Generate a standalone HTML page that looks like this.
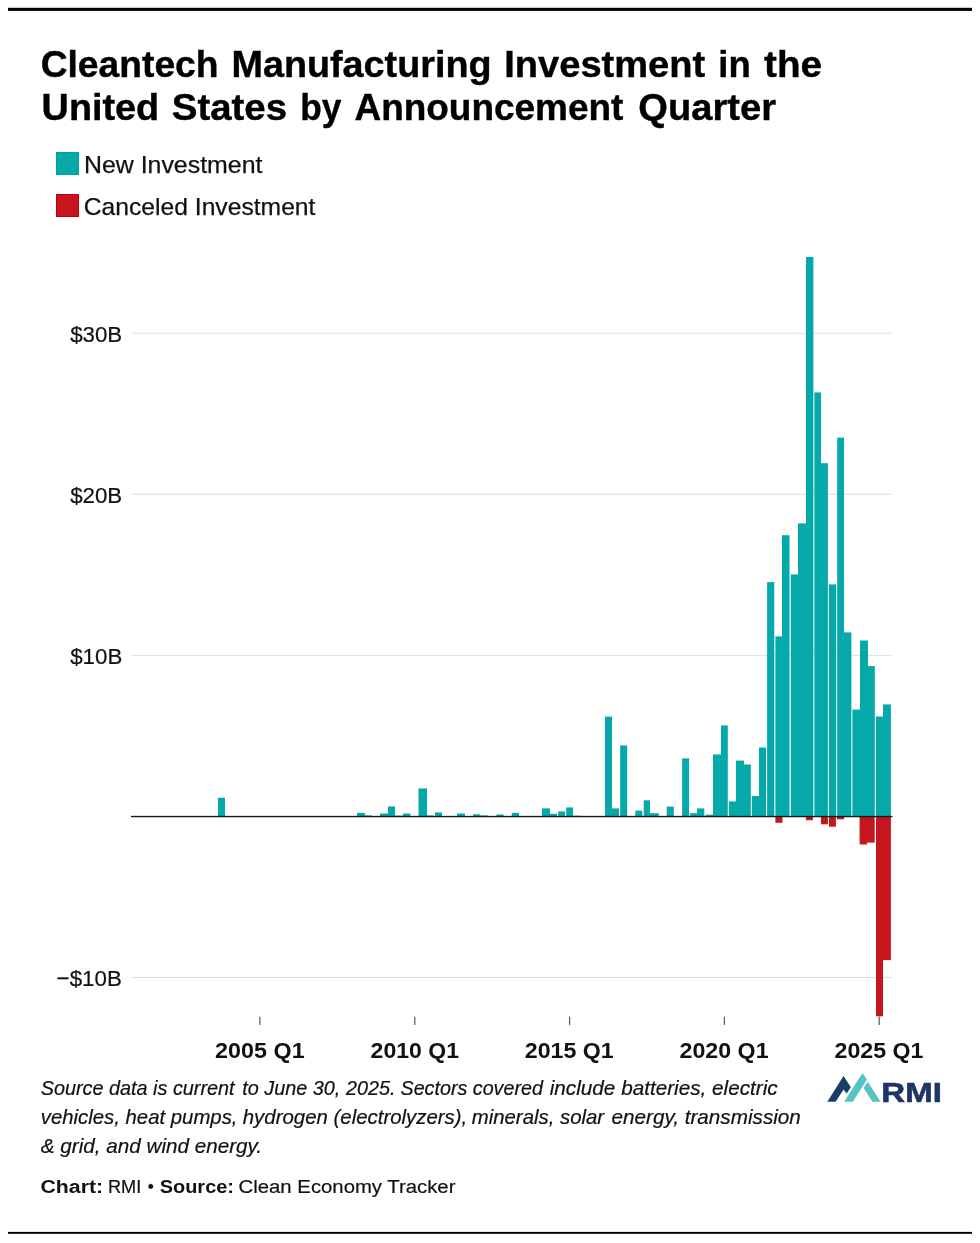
<!DOCTYPE html>
<html lang="en"><head><meta charset="utf-8"><title>Cleantech Manufacturing Investment in the United States by Announcement Quarter</title>
<style>html,body{margin:0;padding:0;background:#fff}svg{display:block;will-change:transform}text{font-family:"Liberation Sans",Arial,sans-serif}</style>
</head><body>
<svg width="980" height="1243" viewBox="0 0 980 1243">
<rect x="0" y="0" width="980" height="1243" fill="#ffffff"/>
<rect x="8" y="7.8" width="964" height="3.1" fill="#000"/>
<rect x="8" y="1231.9" width="964" height="1.9" fill="#000"/>
<rect x="56.5" y="152.5" width="22" height="22" fill="#06a9a9" stroke="#00a0a0" stroke-width="1"/>
<rect x="56.5" y="194.5" width="22" height="22" fill="#c4161c" stroke="#c2000a" stroke-width="1"/>
<rect x="131.5" y="332.75" width="760.3" height="1" fill="#dddddd"/>
<rect x="131.5" y="493.80" width="760.3" height="1" fill="#dddddd"/>
<rect x="131.5" y="654.85" width="760.3" height="1" fill="#dddddd"/>
<rect x="131.5" y="976.95" width="760.3" height="1" fill="#dddddd"/>
<rect x="218" y="797.7" width="7.0" height="18.7" fill="#06a9a9"/>
<rect x="357" y="812.9" width="8.0" height="3.5" fill="#06a9a9"/>
<rect x="365" y="815.4" width="7.0" height="1.0" fill="#06a9a9"/>
<rect x="380" y="813.5" width="8.0" height="2.9" fill="#06a9a9"/>
<rect x="388" y="806.4" width="7.0" height="10.0" fill="#06a9a9"/>
<rect x="395" y="815.6" width="8.0" height="0.8" fill="#06a9a9"/>
<rect x="403" y="813.5" width="7.4" height="2.9" fill="#06a9a9"/>
<rect x="418.5" y="788.4" width="8.5" height="28.0" fill="#06a9a9"/>
<rect x="427" y="815.4" width="6.7" height="1.0" fill="#06a9a9"/>
<rect x="435" y="812.4" width="7.0" height="4.0" fill="#06a9a9"/>
<rect x="457" y="813.5" width="8.0" height="2.9" fill="#06a9a9"/>
<rect x="473" y="814.3" width="7.0" height="2.1" fill="#06a9a9"/>
<rect x="480" y="815.4" width="8.0" height="1.0" fill="#06a9a9"/>
<rect x="496.3" y="814.5" width="7.3" height="1.9" fill="#06a9a9"/>
<rect x="511.8" y="812.9" width="7.2" height="3.5" fill="#06a9a9"/>
<rect x="542" y="808.4" width="8.0" height="8.0" fill="#06a9a9"/>
<rect x="550" y="813.8" width="7.0" height="2.6" fill="#06a9a9"/>
<rect x="558.2" y="811.4" width="6.9" height="5.0" fill="#06a9a9"/>
<rect x="566.2" y="807.4" width="6.8" height="9.0" fill="#06a9a9"/>
<rect x="573" y="815.7" width="7.7" height="0.7" fill="#06a9a9"/>
<rect x="605" y="716.6" width="7.0" height="99.8" fill="#06a9a9"/>
<rect x="612" y="808.4" width="7.0" height="8.0" fill="#06a9a9"/>
<rect x="620.2" y="745.4" width="7.0" height="71.0" fill="#06a9a9"/>
<rect x="635.3" y="810.6" width="7.0" height="5.8" fill="#06a9a9"/>
<rect x="643.7" y="800.3" width="6.3" height="16.1" fill="#06a9a9"/>
<rect x="650" y="813.2" width="8.8" height="3.2" fill="#06a9a9"/>
<rect x="666.7" y="806.6" width="7.1" height="9.8" fill="#06a9a9"/>
<rect x="682.1" y="758.4" width="7.0" height="58.0" fill="#06a9a9"/>
<rect x="690.2" y="813.2" width="6.8" height="3.2" fill="#06a9a9"/>
<rect x="697" y="808.4" width="7.3" height="8.0" fill="#06a9a9"/>
<rect x="705.6" y="814.7" width="7.4" height="1.7" fill="#06a9a9"/>
<rect x="713" y="754.4" width="8.0" height="62.0" fill="#06a9a9"/>
<rect x="721" y="725.4" width="6.8" height="91.0" fill="#06a9a9"/>
<rect x="728.9" y="801.4" width="7.1" height="15.0" fill="#06a9a9"/>
<rect x="736" y="760.6" width="8.0" height="55.8" fill="#06a9a9"/>
<rect x="744" y="764.5" width="6.8" height="51.9" fill="#06a9a9"/>
<rect x="751.9" y="796.0" width="7.1" height="20.4" fill="#06a9a9"/>
<rect x="759" y="747.5" width="7.0" height="68.9" fill="#06a9a9"/>
<rect x="767.1" y="582.1" width="7.2" height="234.3" fill="#06a9a9"/>
<rect x="775.4" y="636.4" width="6.6" height="180.0" fill="#06a9a9"/>
<rect x="782" y="535.2" width="7.5" height="281.2" fill="#06a9a9"/>
<rect x="790.8" y="574.4" width="7.2" height="242.0" fill="#06a9a9"/>
<rect x="798" y="523.4" width="8.0" height="293.0" fill="#06a9a9"/>
<rect x="806" y="257.0" width="7.4" height="559.4" fill="#06a9a9"/>
<rect x="814.4" y="392.4" width="6.6" height="424.0" fill="#06a9a9"/>
<rect x="821" y="463.2" width="6.9" height="353.2" fill="#06a9a9"/>
<rect x="829" y="584.4" width="7.2" height="232.0" fill="#06a9a9"/>
<rect x="837.2" y="437.7" width="6.8" height="378.7" fill="#06a9a9"/>
<rect x="844" y="632.4" width="7.4" height="184.0" fill="#06a9a9"/>
<rect x="852.4" y="709.6" width="7.6" height="106.8" fill="#06a9a9"/>
<rect x="860" y="640.5" width="8.0" height="175.9" fill="#06a9a9"/>
<rect x="868" y="666.1" width="6.8" height="150.3" fill="#06a9a9"/>
<rect x="875.9" y="716.5" width="7.1" height="99.9" fill="#06a9a9"/>
<rect x="883" y="704.4" width="7.9" height="112.0" fill="#06a9a9"/>
<rect x="775.4" y="816.4" width="7.0" height="6.4" fill="#c4161c"/>
<rect x="805.9" y="816.4" width="7.0" height="3.8" fill="#c4161c"/>
<rect x="821" y="816.4" width="6.9" height="7.9" fill="#c4161c"/>
<rect x="829" y="816.4" width="6.9" height="10.3" fill="#c4161c"/>
<rect x="837" y="816.4" width="7.1" height="2.9" fill="#c4161c"/>
<rect x="859.6" y="816.4" width="7.4" height="28.1" fill="#c4161c"/>
<rect x="867" y="816.4" width="7.7" height="26.2" fill="#c4161c"/>
<rect x="876" y="816.4" width="7.0" height="199.9" fill="#c4161c"/>
<rect x="883" y="816.4" width="7.9" height="143.7" fill="#c4161c"/>
<rect x="131" y="815.85" width="761.4" height="1.4" fill="#1a1a1a"/>
<rect x="259.3" y="1016.7" width="1.2" height="8.2" fill="#555"/>
<rect x="414.2" y="1016.7" width="1.2" height="8.2" fill="#555"/>
<rect x="569.0" y="1016.7" width="1.2" height="8.2" fill="#555"/>
<rect x="723.8" y="1016.7" width="1.2" height="8.2" fill="#555"/>
<rect x="878.6" y="1016.7" width="1.2" height="8.2" fill="#555"/>
<text font-size="37" font-weight="bold" fill="#000" stroke="#000" stroke-width="0.4" x="40.65" y="76.60" textLength="177.92" lengthAdjust="spacingAndGlyphs">Cleantech</text>
<text font-size="37" font-weight="bold" fill="#000" stroke="#000" stroke-width="0.4" x="231.48" y="76.60" textLength="260.10" lengthAdjust="spacingAndGlyphs">Manufacturing</text>
<text font-size="37" font-weight="bold" fill="#000" stroke="#000" stroke-width="0.4" x="504.31" y="76.60" textLength="200.81" lengthAdjust="spacingAndGlyphs">Investment</text>
<text font-size="37" font-weight="bold" fill="#000" stroke="#000" stroke-width="0.4" x="718.28" y="76.60" textLength="32.38" lengthAdjust="spacingAndGlyphs">in</text>
<text font-size="37" font-weight="bold" fill="#000" stroke="#000" stroke-width="0.4" x="764.05" y="76.60" textLength="57.96" lengthAdjust="spacingAndGlyphs">the</text>
<text font-size="37" font-weight="bold" fill="#000" stroke="#000" stroke-width="0.4" x="41.62" y="119.90" textLength="117.59" lengthAdjust="spacingAndGlyphs">United</text>
<text font-size="37" font-weight="bold" fill="#000" stroke="#000" stroke-width="0.4" x="171.88" y="119.90" textLength="115.19" lengthAdjust="spacingAndGlyphs">States</text>
<text font-size="37" font-weight="bold" fill="#000" stroke="#000" stroke-width="0.4" x="300.14" y="119.90" textLength="41.17" lengthAdjust="spacingAndGlyphs">by</text>
<text font-size="37" font-weight="bold" fill="#000" stroke="#000" stroke-width="0.4" x="354.49" y="119.90" textLength="268.89" lengthAdjust="spacingAndGlyphs">Announcement</text>
<text font-size="37" font-weight="bold" fill="#000" stroke="#000" stroke-width="0.4" x="638.30" y="119.90" textLength="137.70" lengthAdjust="spacingAndGlyphs">Quarter</text>
<text font-size="24" fill="#111" stroke="#111" stroke-width="0.25" x="83.91" y="172.80" textLength="178.53" lengthAdjust="spacingAndGlyphs">New Investment</text>
<text font-size="24" fill="#111" stroke="#111" stroke-width="0.25" x="83.71" y="215.00" textLength="231.74" lengthAdjust="spacingAndGlyphs">Canceled Investment</text>
<text font-size="22.8" fill="#111" stroke="#111" stroke-width="0.2" x="70.14" y="341.70" textLength="52.11" lengthAdjust="spacingAndGlyphs">$30B</text>
<text font-size="22.8" fill="#111" stroke="#111" stroke-width="0.2" x="70.14" y="502.75" textLength="52.11" lengthAdjust="spacingAndGlyphs">$20B</text>
<text font-size="22.8" fill="#111" stroke="#111" stroke-width="0.2" x="70.17" y="663.80" textLength="52.11" lengthAdjust="spacingAndGlyphs">$10B</text>
<text font-size="22.8" fill="#111" stroke="#111" stroke-width="0.2" x="56.62" y="986.10" textLength="65.19" lengthAdjust="spacingAndGlyphs">−$10B</text>
<text font-size="19.8" font-style="italic" fill="#111" stroke="#111" stroke-width="0.2" x="40.75" y="1094.70" textLength="193.82" lengthAdjust="spacingAndGlyphs">Source data is current</text>
<text font-size="19.8" font-style="italic" fill="#111" stroke="#111" stroke-width="0.2" x="242.20" y="1094.70" textLength="153.38" lengthAdjust="spacingAndGlyphs">to June 30, 2025.</text>
<text font-size="19.8" font-style="italic" fill="#111" stroke="#111" stroke-width="0.2" x="400.50" y="1094.70" textLength="142.40" lengthAdjust="spacingAndGlyphs">Sectors covered</text>
<text font-size="19.8" font-style="italic" fill="#111" stroke="#111" stroke-width="0.2" x="549.74" y="1094.70" textLength="227.97" lengthAdjust="spacingAndGlyphs">include batteries, electric</text>
<text font-size="19.8" font-style="italic" fill="#111" stroke="#111" stroke-width="0.2" x="40.81" y="1123.60" textLength="196.69" lengthAdjust="spacingAndGlyphs">vehicles, heat pumps,</text>
<text font-size="19.8" font-style="italic" fill="#111" stroke="#111" stroke-width="0.2" x="242.76" y="1123.60" textLength="224.52" lengthAdjust="spacingAndGlyphs">hydrogen (electrolyzers),</text>
<text font-size="19.8" font-style="italic" fill="#111" stroke="#111" stroke-width="0.2" x="471.72" y="1123.60" textLength="132.44" lengthAdjust="spacingAndGlyphs">minerals, solar</text>
<text font-size="19.8" font-style="italic" fill="#111" stroke="#111" stroke-width="0.2" x="611.50" y="1123.60" textLength="189.36" lengthAdjust="spacingAndGlyphs">energy, transmission</text>
<text font-size="19.8" font-style="italic" fill="#111" stroke="#111" stroke-width="0.2" x="40.82" y="1152.60" textLength="221.25" lengthAdjust="spacingAndGlyphs">&amp; grid, and wind energy.</text>
<text font-size="19.2" font-weight="bold" fill="#111" x="40.49" y="1192.70" textLength="62.67" lengthAdjust="spacingAndGlyphs">Chart:</text>
<text font-size="19.2" fill="#111" stroke="#111" stroke-width="0.2" x="107.97" y="1192.70" textLength="33.26" lengthAdjust="spacingAndGlyphs">RMI</text>
<text font-size="19.2" fill="#111" stroke="#111" stroke-width="0.2" x="147.82" y="1192.70" textLength="6.05" lengthAdjust="spacingAndGlyphs">•</text>
<text font-size="19.2" font-weight="bold" fill="#111" x="159.71" y="1192.70" textLength="74.26" lengthAdjust="spacingAndGlyphs">Source:</text>
<text font-size="19.2" fill="#111" stroke="#111" stroke-width="0.2" x="238.58" y="1192.70" textLength="216.86" lengthAdjust="spacingAndGlyphs">Clean Economy Tracker</text>
<text font-size="27.4" font-weight="bold" fill="#1d3567" stroke="#1d3567" stroke-width="0.6" x="881.37" y="1101.50" textLength="60.47" lengthAdjust="spacingAndGlyphs">RMI</text>
<text font-size="22.6" font-weight="bold" fill="#111" x="215.14" y="1058.40" textLength="89.48" lengthAdjust="spacingAndGlyphs">2005 Q1</text>
<text font-size="22.6" font-weight="bold" fill="#111" x="370.59" y="1058.40" textLength="88.40" lengthAdjust="spacingAndGlyphs">2010 Q1</text>
<text font-size="22.6" font-weight="bold" fill="#111" x="524.76" y="1058.40" textLength="88.98" lengthAdjust="spacingAndGlyphs">2015 Q1</text>
<text font-size="22.6" font-weight="bold" fill="#111" x="679.56" y="1058.40" textLength="89.04" lengthAdjust="spacingAndGlyphs">2020 Q1</text>
<text font-size="22.6" font-weight="bold" fill="#111" x="834.58" y="1058.40" textLength="88.90" lengthAdjust="spacingAndGlyphs">2025 Q1</text>
<polygon points="827.3,1101.7 843.55,1075.95 850.85,1087.25 846.65,1093.55 843.55,1089.55 835.6,1101.7" fill="#173e68"/>
<polygon points="844.2,1101.7 862.45,1072.95 866.95,1079.6 852.85,1101.7" fill="#54c4c4"/>
<polygon points="867.75,1081.8 880.7,1101.7 872.4,1101.7 863.65,1087.9" fill="#54c4c4"/>
</svg></body></html>
